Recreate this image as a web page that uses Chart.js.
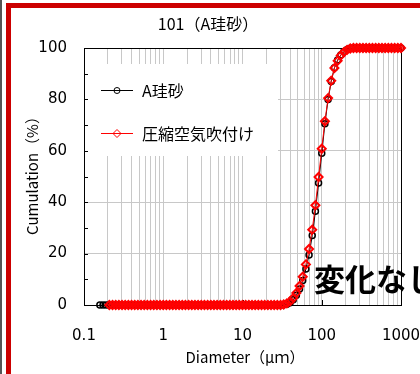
<!DOCTYPE html>
<html>
<head>
<meta charset="utf-8">
<title>101(A珪砂)</title>
<script src="https://cdn.jsdelivr.net/npm/chart.js@4.4.1/dist/chart.umd.min.js"></script>
<style>
    html, body { margin: 0; padding: 0; background: #fff; }
    canvas { display: block; }
</style>
</head>
<body>
<canvas id="psd" width="420" height="374"></canvas>
<script>
// particle diameter channels (um)
const diameters = [
    0.1585, 0.1738, 0.1905, 0.2089, 0.2291, 0.2512, 0.2754, 0.3020, 0.3311, 0.3631,
    0.3981, 0.4365, 0.4786, 0.5248, 0.5754, 0.6310, 0.6918, 0.7586, 0.8318, 0.9120,
    1.000, 1.096, 1.202, 1.318, 1.445, 1.585, 1.738, 1.905, 2.089, 2.291,
    2.512, 2.754, 3.020, 3.311, 3.631, 3.981, 4.365, 4.786, 5.248, 5.754,
    6.310, 6.918, 7.586, 8.318, 9.120, 10.00, 10.96, 12.02, 13.18, 14.45,
    15.85, 17.38, 19.05, 20.89, 22.91, 25.12, 27.54, 30.20, 33.11, 36.31,
    39.81, 43.65, 47.86, 52.48, 57.54, 63.10, 69.18, 75.86, 83.18, 91.20,
    100.0, 109.6, 120.2, 131.8, 144.5, 158.5, 173.8, 190.5, 208.9, 229.1,
    251.2, 275.4, 302.0, 331.1, 363.1, 398.1, 436.5, 478.6, 524.8, 575.4,
    631.0, 691.8, 758.6, 831.8, 912.0, 1000
];

// cumulative passing (%), A珪砂
const silicaSand = [
    0, 0, 0, 0, 0, 0, 0, 0, 0, 0,
    0, 0, 0, 0, 0, 0, 0, 0, 0, 0,
    0, 0, 0, 0, 0, 0, 0, 0, 0, 0,
    0, 0, 0, 0, 0, 0, 0, 0, 0, 0,
    0, 0, 0, 0, 0, 0, 0, 0, 0, 0,
    0, 0, 0, 0, 0, 0, 0, 0, 0.1, 0.3,
    0.9, 2.0, 3.8, 6.2, 9.5, 14.0, 19.5, 27.0, 36.5, 47.5,
    59.0, 70.5, 80.0, 87.0, 92.3, 95.3, 97.3, 98.6, 99.4, 99.9,
    100, 100, 100, 100, 100, 100, 100, 100, 100, 100,
    100, 100, 100, 100, 100, 100
];

// cumulative passing (%), 圧縮空気吹付け
const compressedAir = [
    null, null, null, 0, 0, 0, 0, 0, 0, 0,
    0, 0, 0, 0, 0, 0, 0, 0, 0, 0,
    0, 0, 0, 0, 0, 0, 0, 0, 0, 0,
    0, 0, 0, 0, 0, 0, 0, 0, 0, 0,
    0, 0, 0, 0, 0, 0, 0, 0, 0, 0,
    0, 0, 0, 0, 0, 0, 0, 0, 0.2, 0.6,
    1.4, 2.7, 4.7, 7.4, 11.0, 15.8, 21.8, 29.3, 38.8, 49.8,
    60.8, 71.5, 80.5, 87.3, 92.2, 95.0, 97.1, 98.4, 99.3, 99.8,
    100, 100, 100, 100, 100, 100, 100, 100, 100, 100,
    100, 100, 100, 100, 100, 100
];

const xGridValues = [
    0.1, 0.2, 0.3, 0.4, 0.5, 0.6, 0.7, 0.8, 0.9,
    1, 2, 3, 4, 5, 6, 7, 8, 9,
    10, 20, 30, 40, 50, 60, 70, 80, 90,
    100, 200, 300, 400, 500, 600, 700, 800, 900, 1000
];
const xTickLabels = [0.1, 1, 10, 100, 1000];
const yGridValues = [0, 10, 20, 30, 40, 50, 60, 70, 80, 90, 100];
const yTickLabels = [0, 20, 40, 60, 80, 100];

const GRID = '#c8c8c8';
const FRAME_RED = '#cc0000';
const JP_FONT = '"Noto Sans CJK JP", "DejaVu Sans", sans-serif';

function toPoints(values) {
    return diameters.map((d, i) => ({ x: d, y: values[i] }));
}

function line(ctx, x1, y1, x2, y2) {
    ctx.beginPath();
    ctx.moveTo(x1, y1);
    ctx.lineTo(x2, y2);
    ctx.stroke();
}

function circleMark(ctx, x, y, r, color) {
    ctx.strokeStyle = color;
    ctx.beginPath();
    ctx.arc(x, y, r, 0, Math.PI * 2);
    ctx.stroke();
}

function diamondMark(ctx, x, y, r, color) {
    ctx.strokeStyle = color;
    ctx.beginPath();
    ctx.moveTo(x, y - r);
    ctx.lineTo(x + r, y);
    ctx.lineTo(x, y + r);
    ctx.lineTo(x - r, y);
    ctx.closePath();
    ctx.stroke();
}

// keep tick labels from pushing the plot area inwards
function noLabelPadding(s) {
    s.paddingLeft = 0;
    s.paddingRight = 0;
    s.paddingTop = 0;
    s.paddingBottom = 0;
}

const decorations = {
    id: 'decorations',
    beforeDatasetsDraw(chart) {
        const { ctx, chartArea: a, scales: { x, y } } = chart;
        ctx.save();

        // legend panel sits over the grid
        ctx.fillStyle = '#fff';
        ctx.fillRect(85, 64, 193, 92);

        // plot frame
        ctx.strokeStyle = '#000';
        ctx.lineWidth = 1;
        ctx.strokeRect(a.left + 0.5, a.top + 0.5, a.right - a.left, a.bottom - a.top);

        // inward tick marks
        yGridValues.forEach(v => {
            const py = Math.round(y.getPixelForValue(v)) + 0.5;
            line(ctx, a.left, py, a.left + 4, py);
        });
        xTickLabels.forEach(v => {
            const px = Math.round(x.getPixelForValue(v)) + 0.5;
            line(ctx, px, a.bottom, px, a.bottom - 5);
        });

        // legend entries: line with marker, then name
        ctx.lineWidth = 1;
        ctx.strokeStyle = '#000';
        line(ctx, 101, 90.5, 133, 90.5);
        circleMark(ctx, 117, 90.5, 3, '#000');
        ctx.strokeStyle = '#ff0000';
        line(ctx, 101, 133.5, 133, 133.5);
        diamondMark(ctx, 117, 133.5, 4, '#ff0000');

        ctx.fillStyle = '#000';
        ctx.font = '16px ' + JP_FONT;
        ctx.textAlign = 'left';
        ctx.textBaseline = 'middle';
        ctx.fillText('A珪砂', 142, 91);
        ctx.fillText('圧縮空気吹付け', 142, 134);

        ctx.restore();
    },
    afterDraw(chart) {
        const { ctx } = chart;
        ctx.save();
        ctx.fillStyle = '#000';

        // chart title
        ctx.font = '16px ' + JP_FONT;
        ctx.textAlign = 'center';
        ctx.textBaseline = 'middle';
        ctx.fillText('101（A珪砂）', 208, 24);

        // axis titles
        ctx.font = '15px ' + JP_FONT;
        ctx.fillText('Diameter（μｍ）', 245, 357);
        ctx.save();
        ctx.translate(32, 172);
        ctx.rotate(-Math.PI / 2);
        ctx.fillText('Cumulation（%）', 0, 0);
        ctx.restore();

        // note on the result
        ctx.font = 'bold 31px ' + JP_FONT;
        ctx.textAlign = 'left';
        ctx.textBaseline = 'alphabetic';
        ctx.fillText('変化なし', 314, 291);

        // outer frame
        ctx.fillStyle = '#555';
        ctx.fillRect(0, 0, 2, 374);
        ctx.fillStyle = FRAME_RED;
        ctx.fillRect(6, 3, 414, 5);
        ctx.fillRect(6, 3, 5, 371);

        ctx.restore();
    }
};

new Chart(document.getElementById('psd'), {
    type: 'line',
    data: {
        datasets: [
            {
                label: '圧縮空気吹付け',
                data: toPoints(compressedAir),
                borderColor: '#ff0000',
                borderWidth: 1,
                pointStyle: 'rectRot',
                pointRadius: 4,
                pointBorderWidth: 2,
                pointBorderColor: '#ff0000',
                pointBackgroundColor: 'rgba(255,255,255,0)',
                clip: false
            },
            {
                label: 'A珪砂',
                data: toPoints(silicaSand),
                borderColor: '#000',
                borderWidth: 1,
                pointStyle: 'circle',
                pointRadius: 3,
                pointBorderWidth: 1.5,
                pointBorderColor: '#000',
                pointBackgroundColor: 'rgba(255,255,255,0)',
                clip: false
            }
        ]
    },
    options: {
        responsive: false,
        animation: false,
        devicePixelRatio: 1,
        layout: { padding: { top: 48, right: 19, left: 0, bottom: 0 } },
        plugins: {
            legend: { display: false },
            tooltip: { enabled: false }
        },
        scales: {
            x: {
                type: 'logarithmic',
                min: 0.1,
                max: 1000,
                afterBuildTicks: s => { s.ticks = xGridValues.map(v => ({ value: v })); },
                afterFit: s => { s.height = 69; noLabelPadding(s); },
                grid: { color: GRID, drawTicks: false },
                border: { display: false },
                ticks: {
                    autoSkip: false,
                    maxRotation: 0,
                    padding: 22,
                    color: '#000',
                    font: { family: 'DejaVu Sans', size: 15 },
                    callback: v => xTickLabels.includes(v) ? String(v) : ''
                }
            },
            y: {
                type: 'linear',
                min: 0,
                max: 100,
                afterBuildTicks: s => { s.ticks = yGridValues.map(v => ({ value: v })); },
                afterFit: s => { s.width = 84; noLabelPadding(s); },
                grid: {
                    color: c => c.tick && c.tick.value % 20 === 0 ? GRID : 'rgba(0,0,0,0)',
                    drawTicks: false
                },
                border: { display: false },
                ticks: {
                    padding: 17,
                    color: '#000',
                    font: { family: 'DejaVu Sans', size: 15 },
                    callback: v => yTickLabels.includes(v) ? String(v) : ''
                }
            }
        }
    },
    plugins: [decorations]
});
</script>
</body>
</html>
